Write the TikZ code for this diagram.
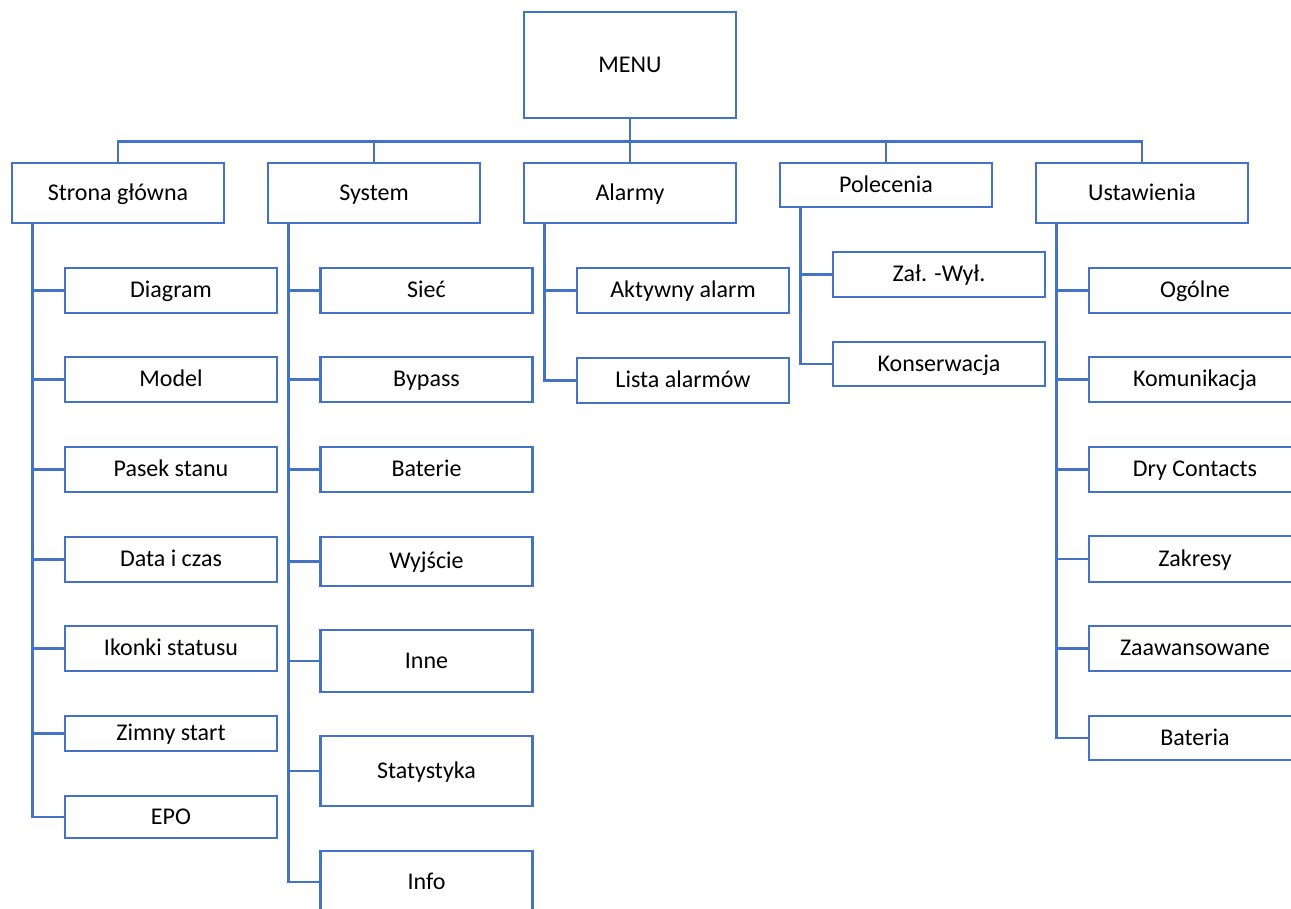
\documentclass[tikz,border=0pt]{standalone}
\usepackage{fontspec}
\setmainfont{Carlito}
\definecolor{lineblue}{HTML}{4472C4}
\tikzset{
  menubox/.style={draw=lineblue, line width=2.7pt, fill=white, minimum width=212pt, minimum height=45pt, inner sep=0pt, text height=17pt, text depth=3pt},
  link/.style={draw=lineblue, line width=2.7pt},
}
\begin{document}
\begin{tikzpicture}[x=1pt,y=-1pt,font=\fontsize{24}{28}\selectfont]
\useasboundingbox (0,0) rectangle (1291,908);
\clip (0,0) rectangle (1291,908);

\node[menubox, minimum height=106pt] (menu) at (630,65) {MENU};

\node[menubox, minimum height=60pt] (strona) at (118,193) {Strona główna};
\node[menubox, minimum height=60pt] (system) at (374,193) {System};
\node[menubox, minimum height=60pt] (alarmy) at (630,193) {Alarmy};
\node[menubox, minimum height=44pt] (polecenia) at (886,185) {Polecenia};
\node[menubox, minimum height=60pt] (ustawienia) at (1142,193) {Ustawienia};

\node[menubox] (diagram) at (171,290.5) {Diagram};
\node[menubox] (model) at (171,379.5) {Model};
\node[menubox] (pasek) at (171,469.5) {Pasek stanu};
\node[menubox] (data) at (171,559.5) {Data i czas};
\node[menubox] (ikonki) at (171,648.5) {Ikonki statusu};
\node[menubox, minimum height=35pt] (zimny) at (171,733.5) {Zimny start};
\node[menubox, minimum height=42pt] (epo) at (171,817) {EPO};

\node[menubox] (siec) at (426.5,290.5) {Sieć};
\node[menubox] (bypass) at (426.5,379.5) {Bypass};
\node[menubox] (baterie) at (426.5,469.5) {Baterie};
\node[menubox, minimum height=49pt] (wyjscie) at (426.5,561.5) {Wyjście};
\node[menubox, minimum height=62pt] (inne) at (426.5,661) {Inne};
\node[menubox, minimum height=70pt] (statystyka) at (426.5,771) {Statystyka};
\node[menubox, minimum height=62pt] (info) at (426.5,882) {Info};

\node[menubox] (aktywny) at (683,290.5) {Aktywny alarm};
\node[menubox] (lista) at (683,380.5) {Lista alarmów};

\node[menubox] (zal) at (939,274.5) {Zał. -Wył.};
\node[menubox, minimum height=44pt] (konserwacja) at (939,364) {Konserwacja};

\node[menubox] (ogolne) at (1195,290.5) {Ogólne};
\node[menubox] (komunikacja) at (1195,379.5) {Komunikacja};
\node[menubox] (dry) at (1195,469.5) {Dry Contacts};
\node[menubox, minimum height=46pt] (zakresy) at (1195,559) {Zakresy};
\node[menubox] (zaawansowane) at (1195,648.5) {Zaawansowane};
\node[menubox, minimum height=44pt] (bateria) at (1195,738) {Bateria};

\foreach \n in {strona,system,alarmy,polecenia,ustawienia}
  \draw[link] (menu.south) -- ++(0,22) -| (\n.north);

\foreach \p/\c in {strona/diagram,strona/model,strona/pasek,strona/data,strona/ikonki,strona/zimny,strona/epo,
  system/siec,system/bypass,system/baterie,system/wyjscie,system/inne,system/statystyka,system/info,
  alarmy/aktywny,alarmy/lista,polecenia/zal,polecenia/konserwacja,
  ustawienia/ogolne,ustawienia/komunikacja,ustawienia/dry,ustawienia/zakresy,ustawienia/zaawansowane,ustawienia/bateria}
  \draw[link] ([xshift=22pt]\p.south west) |- (\c.west);

\end{tikzpicture}
\end{document}
